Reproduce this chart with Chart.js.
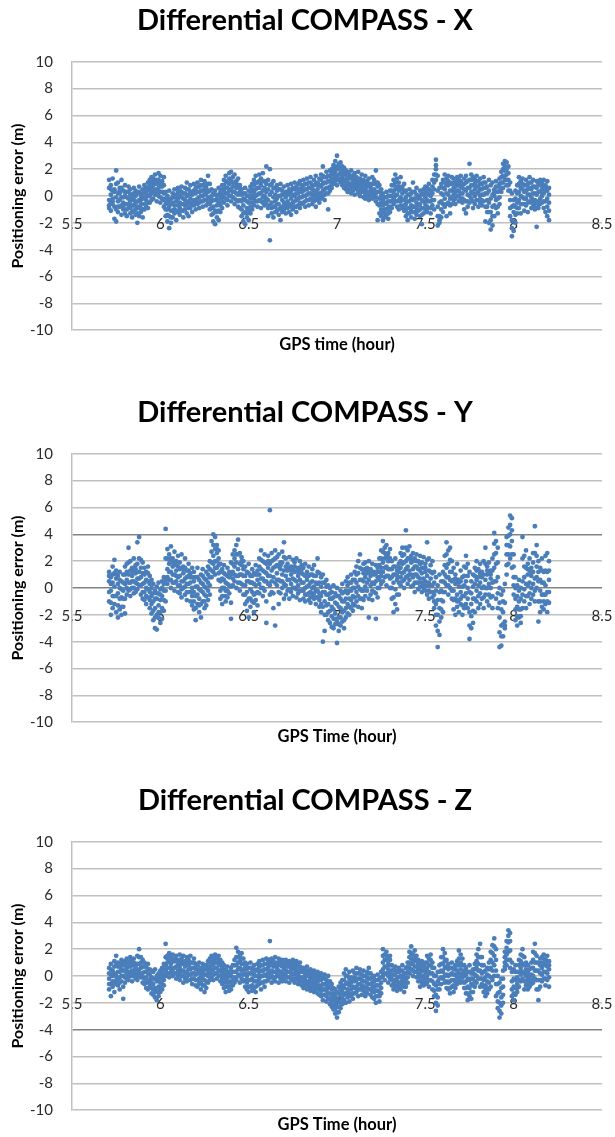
<!DOCTYPE html>
<html>
<head>
<meta charset="utf-8">
<title>Differential COMPASS positioning error</title>
<script src="https://cdn.jsdelivr.net/npm/chart.js@4/dist/chart.umd.min.js"></script>
<style>
    body { margin: 0; background: #ffffff; width: 615px; height: 1137px; overflow: hidden; position: relative; }
    .panel { position: absolute; left: 0; width: 615px; height: 357px; }
    canvas { display: block; }
</style>
</head>
<body>
<div class="panel" style="top: 0px;"><canvas id="chartX" width="615" height="357"></canvas></div>
<div class="panel" style="top: 392px;"><canvas id="chartY" width="615" height="357"></canvas></div>
<div class="panel" style="top: 780px;"><canvas id="chartZ" width="615" height="357"></canvas></div>
<script>
// GPS time of each epoch (hour)
const gpsTime = [
    5.71,5.72,5.73,5.74,5.75,5.76,5.77,5.78,5.79,5.80,
    5.81,5.82,5.83,5.84,5.85,5.86,5.87,5.88,5.89,5.90,
    5.91,5.92,5.93,5.94,5.95,5.96,5.97,5.98,5.99,6.00,
    6.01,6.02,6.03,6.04,6.05,6.06,6.07,6.08,6.09,6.10,
    6.11,6.12,6.13,6.14,6.15,6.16,6.17,6.18,6.19,6.20,
    6.21,6.22,6.23,6.24,6.25,6.26,6.27,6.28,6.29,6.30,
    6.31,6.32,6.33,6.34,6.35,6.36,6.37,6.38,6.39,6.40,
    6.41,6.42,6.43,6.44,6.45,6.46,6.47,6.48,6.49,6.50,
    6.51,6.52,6.53,6.54,6.55,6.56,6.57,6.58,6.59,6.60,
    6.61,6.62,6.63,6.64,6.65,6.66,6.67,6.68,6.69,6.70,
    6.71,6.72,6.73,6.74,6.75,6.76,6.77,6.78,6.79,6.80,
    6.81,6.82,6.83,6.84,6.85,6.86,6.87,6.88,6.89,6.90,
    6.91,6.92,6.93,6.94,6.95,6.96,6.97,6.98,6.99,7.00,
    7.01,7.02,7.03,7.04,7.05,7.06,7.07,7.08,7.09,7.10,
    7.11,7.12,7.13,7.14,7.15,7.16,7.17,7.18,7.19,7.20,
    7.21,7.22,7.23,7.24,7.25,7.26,7.27,7.28,7.29,7.30,
    7.31,7.32,7.33,7.34,7.35,7.36,7.37,7.38,7.39,7.40,
    7.41,7.42,7.43,7.44,7.45,7.46,7.47,7.48,7.49,7.50,
    7.51,7.52,7.53,7.54,7.55,7.56,7.57,7.58,7.59,7.60,
    7.61,7.62,7.63,7.64,7.65,7.66,7.67,7.68,7.69,7.70,
    7.71,7.72,7.73,7.74,7.75,7.76,7.77,7.78,7.79,7.80,
    7.81,7.82,7.83,7.84,7.85,7.86,7.87,7.88,7.89,7.90,
    7.91,7.92,7.93,7.94,7.95,7.96,7.97,7.98,7.99,8.00,
    8.01,8.02,8.03,8.04,8.05,8.06,8.07,8.08,8.09,8.10,
    8.11,8.12,8.13,8.14,8.15,8.16,8.17,8.18,8.19,8.20
];

// X component (m): five points of the cloud at each epoch, top to bottom
const compassXHigh = [
    1.2,0.8,1.3,0.5,1.9,1.0,0.6,1.2,0.4,0.8,
    0.3,0.7,0.5,0.1,0.6,0.4,0.2,0.7,0.0,0.5,
    0.8,0.6,1.0,1.2,1.4,1.3,1.6,1.2,1.7,1.5,
    1.1,1.4,0.3,0.0,0.4,-0.2,0.2,0.5,0.1,0.6,
    0.4,0.7,0.2,0.6,1.0,0.5,0.8,0.3,0.9,0.6,
    1.0,0.7,1.2,0.8,1.1,0.6,1.5,0.9,0.5,0.2,
    0.4,0.0,0.6,0.3,0.8,1.2,1.5,1.0,1.7,1.8,
    1.4,1.6,1.1,1.3,0.8,0.5,0.2,0.6,0.0,0.4,
    0.7,0.9,1.2,1.5,1.0,1.6,1.3,1.7,1.1,2.2,
    1.2,2.0,0.9,1.1,0.6,0.8,0.5,0.9,0.4,0.7,
    0.3,0.8,0.5,0.9,0.6,1.0,0.7,0.9,1.1,0.8,
    1.2,0.9,1.3,1.0,1.4,0.8,1.2,1.5,1.0,1.3,
    1.6,2.2,1.4,1.8,1.5,1.9,2.0,2.3,2.6,3.0,
    2.4,2.5,2.2,2.1,1.9,1.8,1.6,1.9,1.5,1.7,
    1.4,1.8,1.3,1.6,1.2,1.5,1.1,1.3,0.9,1.4,
    1.2,1.9,1.0,0.8,0.5,0.2,-0.1,0.3,0.0,0.4,
    0.8,1.2,1.6,1.3,1.0,1.4,0.7,0.9,0.4,0.1,
    0.5,0.2,1.0,0.3,0.6,0.0,0.4,0.2,0.5,0.7,
    0.6,0.9,0.4,1.2,1.6,2.7,1.5,0.6,0.9,1.2,
    1.6,1.3,1.5,1.0,1.4,1.3,1.0,1.4,1.2,1.5,
    0.9,1.3,1.5,1.1,2.4,1.6,1.4,1.2,1.5,1.1,
    1.3,0.9,1.4,1.0,0.7,1.2,0.8,1.0,0.5,1.1,
    0.7,1.3,1.8,2.4,2.6,2.5,2.2,1.0,0.2,-0.3,
    0.4,0.8,1.4,1.1,1.3,0.8,1.2,0.9,1.4,1.0,
    1.2,0.7,1.1,0.9,1.2,1.0,1.2,0.8,1.1,0.6
];
const compassXUpperMid = [
    0.6,0.5,0.4,0.4,0.9,0.2,0.4,0.6,-0.1,0.3,
    -0.1,0.3,0.1,-0.2,0.2,0.0,-0.4,0.3,-0.3,0.2,
    0.4,0.4,0.6,0.8,1.0,1.1,1.1,1.0,1.2,0.9,
    0.9,0.8,-0.2,-0.5,-0.3,-0.6,-0.1,-0.1,-0.1,0.3,
    0.0,0.3,-0.2,0.2,0.5,0.1,0.3,0.2,0.4,0.4,
    0.7,0.3,0.8,0.4,0.8,0.4,0.9,0.4,0.0,-0.3,
    0.1,-0.3,0.1,0.1,0.5,0.8,1.1,0.6,1.3,1.2,
    1.0,1.0,0.9,0.7,0.6,0.1,-0.2,0.2,-0.4,0.0,
    0.3,0.5,0.8,1.0,0.6,1.1,0.8,1.1,0.6,0.9,
    0.5,0.8,0.3,0.6,0.1,0.4,0.0,0.5,0.1,0.2,
    0.1,0.3,0.3,0.4,0.1,0.5,0.2,0.5,0.5,0.6,
    0.8,0.5,0.9,0.6,1.0,0.5,0.8,0.9,0.8,0.8,
    1.2,1.5,1.0,1.4,1.1,1.5,1.7,2.0,2.2,2.1,
    2.2,2.1,1.8,1.9,1.6,1.4,1.5,1.4,1.3,1.3,
    1.3,1.2,1.1,1.1,1.0,1.0,0.9,0.8,0.8,0.9,
    0.9,1.0,0.7,0.3,0.0,-0.3,-0.5,-0.1,-0.4,0.0,
    0.4,0.8,1.0,0.7,0.7,0.6,0.5,0.3,-0.1,-0.4,
    0.1,-0.2,0.3,-0.2,0.1,-0.1,0.0,-0.3,0.1,0.3,
    0.2,0.5,0.0,0.7,1.0,2.3,0.4,-0.5,0.2,0.6,
    1.0,0.8,1.1,0.4,0.9,1.0,0.7,1.1,0.8,1.1,
    0.6,0.9,1.0,0.6,1.2,1.2,0.8,0.9,1.1,0.7,
    0.9,0.5,1.0,0.6,0.2,0.4,-0.2,0.1,0.3,0.7,
    0.3,0.9,1.4,2.0,2.2,2.0,1.7,0.4,-0.8,-0.7,
    -0.2,0.2,0.9,0.6,0.9,0.3,0.8,0.5,1.0,0.5,
    0.7,0.2,0.6,0.3,0.8,0.8,0.7,0.6,0.4,0.1
];
const compassXMid = [
    -0.3,0.1,-0.2,0.3,-0.1,-0.4,0.2,-0.1,-0.5,0.0,
    -0.6,-0.2,-0.4,-0.7,-0.3,-0.5,-0.8,-0.3,-0.6,-0.2,
    -0.1,0.2,0.0,0.4,0.6,0.8,0.5,0.9,0.6,0.3,
    0.7,0.2,-0.6,-1.0,-0.8,-1.1,-0.5,-0.7,-0.4,-0.2,
    -0.5,-0.1,-0.6,-0.3,0.0,-0.4,-0.2,0.1,-0.3,0.2,
    0.3,-0.1,0.4,0.0,0.5,0.2,0.3,-0.2,-0.4,-0.8,
    -0.3,-0.7,-0.5,-0.2,0.1,0.4,0.6,0.2,0.9,0.5,
    0.7,0.3,0.6,0.1,0.3,-0.4,-0.7,-0.3,-0.9,-0.5,
    -0.2,0.0,0.3,0.5,0.1,0.6,0.2,0.4,0.0,0.3,
    -0.3,0.1,-0.5,-0.1,-0.4,-0.2,-0.6,0.0,-0.3,-0.5,
    -0.1,-0.4,0.1,-0.2,-0.5,0.0,-0.3,0.2,-0.1,0.3,
    0.4,0.0,0.5,0.2,0.6,0.1,0.4,0.3,0.5,0.2,
    0.7,0.9,0.5,1.0,0.6,1.1,1.3,1.6,1.8,1.5,
    2.0,1.7,1.4,1.6,1.2,1.0,1.3,0.8,1.1,0.9,
    1.2,0.7,0.9,0.6,0.8,0.5,0.7,0.3,0.6,0.4,
    0.5,0.2,0.3,-0.2,-0.5,-0.7,-1.0,-0.6,-0.9,-0.4,
    0.0,0.3,0.5,0.1,0.4,-0.1,0.2,-0.3,-0.6,-0.9,
    -0.4,-0.7,-0.3,-0.8,-0.5,-0.2,-0.6,-0.9,-0.4,-0.1,
    -0.3,0.1,-0.4,0.2,0.5,2.0,-0.8,-1.5,-0.4,0.1,
    0.5,0.2,0.8,-0.2,0.4,0.6,0.3,0.8,0.4,0.7,
    0.2,0.5,0.4,0.1,0.6,0.8,0.2,0.5,0.7,0.3,
    0.5,0.1,0.6,0.2,-0.3,-0.5,-1.2,-0.8,0.0,0.3,
    -0.2,0.4,1.0,1.5,1.9,1.6,1.2,-0.3,-1.8,-1.2,
    -0.8,-0.5,0.3,0.0,0.5,-0.2,0.4,0.1,0.6,-0.1,
    0.2,-0.3,0.1,-0.4,0.3,0.5,0.2,0.4,-0.2,-0.5
];
const compassXLowerMid = [
    -0.7,-0.5,-0.4,-0.8,-1.0,-0.8,-0.3,-0.7,-0.8,-0.6,
    -1.0,-0.6,-0.9,-1.2,-0.7,-1.0,-1.3,-0.9,-0.9,-1.0,
    -0.6,-0.3,-0.5,0.0,0.2,0.3,0.3,0.3,0.3,-0.1,
    0.3,-0.3,-1.0,-1.4,-1.5,-1.6,-1.1,-1.0,-1.1,-0.7,
    -0.9,-0.6,-1.1,-0.7,-0.6,-0.9,-0.6,-0.5,-0.5,-0.4,
    -0.2,-0.5,0.0,-0.4,0.1,-0.3,-0.1,-0.6,-0.9,-1.3,
    -1.1,-1.2,-1.1,-0.7,-0.4,-0.1,0.2,-0.3,0.4,0.0,
    0.3,-0.2,0.2,-0.4,-0.3,-1.0,-1.3,-1.2,-1.3,-1.1,
    -0.8,-0.5,-0.2,0.0,-0.4,0.2,-0.4,-0.1,-0.4,-0.2,
    -0.9,-0.7,-0.9,-0.8,-0.8,-0.6,-1.0,-0.9,-0.8,-0.8,
    -0.7,-0.7,-0.6,-0.8,-0.8,-0.4,-0.8,-0.2,-0.5,-0.1,
    0.0,-0.4,0.1,-0.3,0.2,-0.3,0.0,-0.2,0.1,-0.1,
    0.2,0.4,0.1,0.6,0.2,0.7,0.9,1.2,1.4,1.2,
    1.6,1.3,1.1,1.1,0.8,0.6,0.9,0.5,0.7,0.5,
    0.9,0.4,0.5,0.4,0.3,0.1,0.3,0.0,0.3,0.1,
    0.2,-0.1,-0.6,-0.7,-1.0,-1.2,-1.3,-1.0,-1.3,-0.8,
    -0.4,-0.2,0.0,-0.4,-0.3,-0.4,-0.3,-0.7,-1.0,-1.3,
    -0.9,-1.1,-0.8,-1.2,-0.9,-0.7,-1.0,-1.4,-0.9,-0.6,
    -0.8,-0.4,-0.9,-0.3,-0.3,1.6,-1.5,-1.8,-1.0,-0.6,
    -0.2,-0.6,0.1,-0.7,-0.1,0.1,-0.2,0.4,0.0,0.2,
    -0.2,-0.3,-0.4,-0.4,0.0,0.3,-0.4,0.0,0.2,-0.3,
    0.0,-0.3,0.1,-0.8,-0.8,-1.2,-1.8,-1.5,-0.7,-0.3,
    -0.8,-0.1,0.6,1.0,1.5,1.2,0.8,-0.9,-2.4,-1.9,
    -1.4,-0.9,-0.3,-0.6,-0.1,-0.6,-0.2,-0.5,0.1,-0.5,
    -0.3,-0.6,-0.9,-0.6,-0.2,0.0,-0.4,-0.4,-0.8,-1.1
];
const compassXLow = [
    -0.9,-1.1,-0.6,-1.7,-1.9,-1.2,-0.8,-1.4,-1.0,-1.3,
    -1.5,-0.9,-1.3,-1.6,-1.1,-1.4,-2.0,-1.5,-1.2,-1.6,
    -1.0,-0.8,-0.9,-0.5,-0.3,-0.2,0.1,-0.4,0.0,-0.5,
    -0.2,-0.8,-1.5,-1.9,-2.4,-2.0,-1.6,-1.3,-1.8,-1.2,
    -1.4,-1.1,-1.6,-1.0,-1.3,-1.5,-0.9,-1.2,-0.7,-1.0,
    -0.6,-0.9,-0.4,-0.8,-0.3,-0.7,-0.5,-1.0,-1.4,-1.9,
    -2.1,-1.6,-1.8,-1.2,-0.9,-0.5,-0.2,-0.7,0.0,-0.4,
    -0.1,-0.6,-0.3,-0.8,-0.9,-1.5,-1.9,-2.1,-1.6,-1.8,
    -1.3,-1.0,-0.7,-0.4,-0.8,-0.3,-0.9,-0.5,-0.7,-0.6,
    -1.5,-3.3,-1.3,-1.6,-1.2,-1.1,-1.4,-1.8,-1.2,-1.0,
    -1.3,-0.9,-1.2,-1.4,-1.0,-0.8,-1.2,-0.7,-0.9,-0.6,
    -0.5,-0.8,-0.3,-0.7,-0.2,-0.6,-0.4,-0.8,-0.3,-0.5,
    -0.2,0.0,-0.3,0.2,-1.0,0.4,0.6,0.9,1.1,0.8,
    1.2,1.0,0.8,0.6,0.5,0.3,0.5,0.2,0.4,0.1,
    0.6,0.2,0.0,0.3,-0.1,-0.2,0.0,-0.3,0.1,-0.2,
    0.0,-0.4,-1.8,-1.3,-1.5,-1.8,-1.6,-1.4,-1.7,-1.2,
    -0.9,-0.6,-0.4,-0.8,-1.0,-0.7,-0.9,-1.1,-1.5,-1.8,
    -1.3,-1.6,-1.2,-1.7,-1.4,-1.1,-1.5,-2.1,-1.3,-1.0,
    -1.2,-0.9,-1.3,-0.7,-1.0,1.2,-2.2,-2.0,-1.6,-1.2,
    -0.8,-1.5,-0.5,-1.3,-0.6,-0.3,-0.6,0.0,-0.4,-0.2,
    -0.5,-1.0,-1.3,-0.8,-0.5,-0.2,-0.9,-0.6,-0.3,-0.8,
    -0.5,-0.7,-0.4,-1.9,-1.2,-2.0,-2.5,-2.2,-1.5,-0.9,
    -1.3,-0.6,0.3,0.6,1.2,0.8,0.4,-1.5,-3.0,-2.6,
    -2.0,-1.3,-0.9,-1.3,-0.6,-1.1,-0.7,-1.2,-0.4,-0.9,
    -0.8,-1.0,-2.3,-0.9,-0.6,-0.5,-0.9,-1.2,-1.5,-1.8
];

// Y component (m)
const compassYHigh = [
    1.2,0.8,1.6,2.1,1.3,0.9,1.2,0.5,1.0,1.6,
    1.8,3.0,2.0,1.5,2.2,1.7,3.4,3.8,2.1,1.9,
    1.5,1.2,1.6,0.9,0.6,0.3,-0.2,0.1,0.4,-0.1,
    0.5,0.8,4.4,2.9,2.5,3.1,2.2,2.7,2.0,2.4,
    1.9,2.5,1.6,2.2,1.3,1.8,1.1,1.5,1.2,0.8,
    1.5,0.6,1.0,1.4,0.7,1.2,1.6,2.0,3.5,4.0,
    3.8,3.2,2.8,1.8,1.4,1.7,1.0,1.5,1.2,1.9,
    2.5,2.8,3.2,3.6,2.6,2.3,2.0,1.6,1.2,1.8,
    0.9,1.4,1.1,1.7,1.3,2.2,2.8,2.0,2.5,1.8,
    2.4,5.8,2.6,2.1,2.8,2.3,2.5,1.9,2.7,3.4,
    2.2,1.8,2.3,1.6,2.1,1.9,2.2,1.5,2.0,1.7,
    1.5,1.8,1.2,1.6,1.0,1.4,1.7,0.9,2.2,1.1,
    0.8,1.0,0.4,0.6,0.2,0.0,-0.3,0.2,-0.4,0.0,
    -0.6,-0.2,0.3,-0.3,0.5,0.8,0.4,1.0,0.6,1.2,
    1.6,2.0,2.5,1.4,1.8,1.9,1.5,2.0,1.4,1.8,
    1.2,1.7,1.5,2.2,2.8,3.5,3.0,3.2,2.6,2.9,
    2.0,1.6,2.2,1.3,1.8,2.6,3.0,2.5,4.3,2.8,
    3.1,2.4,2.6,2.2,2.5,2.0,2.4,1.9,2.3,1.8,
    3.4,2.2,1.7,2.0,1.2,0.8,0.2,1.0,0.5,1.2,
    2.4,3.4,2.8,3.0,2.0,1.5,1.0,1.8,0.6,1.3,
    0.8,1.6,2.4,1.8,1.2,0.5,1.0,1.5,2.0,1.4,
    1.8,1.2,2.0,3.0,1.6,1.9,1.3,2.2,4.1,3.5,
    3.0,0.0,-0.5,-0.2,0.3,3.8,4.5,5.4,5.2,2.5,
    0.8,0.2,0.6,0.0,3.8,2.4,2.8,1.8,2.2,1.5,
    2.6,4.6,3.2,2.0,1.5,2.2,1.2,2.4,2.6,2.0
];
const compassYUpperMid = [
    0.9,0.3,1.0,1.1,1.0,0.3,0.6,-0.1,0.4,1.0,
    1.2,1.9,1.3,1.2,1.4,1.4,1.8,2.2,1.5,1.1,
    1.0,0.6,1.1,0.3,0.0,-0.4,-0.8,-0.4,-0.4,-0.5,
    0.0,0.3,2.2,2.2,2.1,2.2,1.9,1.8,1.7,1.6,
    1.4,1.5,1.4,1.5,0.8,1.3,0.8,0.8,0.5,0.1,
    0.8,-0.1,0.4,0.9,0.1,0.6,1.0,1.4,2.7,3.2,
    2.9,2.9,2.2,1.2,0.7,1.1,0.4,0.9,1.0,1.0,
    1.8,2.2,2.5,2.5,1.8,2.0,1.4,0.9,0.5,1.1,
    0.4,0.9,0.3,1.0,1.0,1.6,2.1,1.3,1.9,1.1,
    2.0,1.8,2.0,1.5,2.2,1.7,1.6,1.7,1.9,2.3,
    1.6,1.5,1.5,1.3,1.4,1.6,1.3,1.2,1.3,1.4,
    1.0,0.9,0.9,0.9,0.4,1.0,0.9,0.4,1.2,0.4,
    0.1,0.4,-0.3,0.1,-0.5,-0.4,-0.8,-0.7,-1.1,-0.6,
    -1.4,-0.8,-0.4,-1.0,-0.2,0.2,-0.2,0.4,0.0,0.6,
    1.0,1.1,1.5,0.6,1.1,1.4,1.3,1.3,1.2,1.1,
    1.1,1.1,1.2,1.7,2.2,2.7,2.6,2.4,2.3,2.2,
    1.4,1.0,1.6,0.9,1.5,2.0,2.4,1.9,3.0,2.2,
    2.2,2.1,2.0,1.6,2.0,1.4,1.8,1.5,1.5,1.5,
    2.1,1.3,1.2,1.1,0.4,-0.2,-0.9,-0.3,-0.2,0.5,
    1.7,2.5,1.8,2.1,1.2,0.6,0.7,0.6,0.4,0.5,
    0.1,0.9,1.5,0.9,-0.3,-0.4,0.1,0.9,1.3,0.8,
    1.1,1.0,1.0,1.8,1.3,1.1,1.0,1.3,3.3,2.6,
    1.9,-1.1,-1.6,-1.0,-1.1,3.2,3.9,4.7,4.3,1.6,
    0.0,-0.6,-0.2,-0.8,2.2,1.6,1.5,1.4,1.3,1.2,
    1.9,2.6,2.4,1.2,0.6,1.3,0.4,1.3,1.2,1.3
];
const compassYMid = [
    0.5,-0.2,0.4,0.1,0.7,-0.4,0.0,-0.7,-0.2,0.3,
    0.6,1.0,0.4,0.9,0.5,1.1,0.7,1.2,0.8,0.3,
    0.4,0.0,0.5,-0.3,-0.6,-1.0,-1.5,-0.8,-1.3,-0.9,
    -0.6,-0.2,0.6,1.4,1.8,1.2,1.6,1.0,1.3,0.8,
    0.9,0.5,1.1,0.7,0.3,0.9,0.4,0.0,-0.3,-0.6,
    0.1,-0.8,-0.2,0.3,-0.5,0.0,0.4,0.8,1.9,2.4,
    2.0,2.6,1.7,0.5,0.0,0.6,-0.2,0.3,0.8,0.1,
    1.2,1.6,1.9,1.4,1.0,1.7,0.9,0.2,-0.3,0.5,
    -0.1,0.4,-0.5,0.2,0.6,1.0,1.4,0.7,1.2,0.5,
    1.5,0.9,1.3,0.8,1.6,1.1,0.6,1.4,1.0,1.3,
    0.9,1.3,0.6,1.0,0.7,1.2,0.5,0.9,0.6,1.1,
    0.4,0.0,0.6,0.2,-0.3,0.5,0.1,-0.2,0.3,-0.4,
    -0.6,-0.3,-1.0,-0.5,-1.2,-0.8,-1.4,-1.6,-1.9,-1.2,
    -2.2,-1.5,-1.0,-1.7,-0.8,-0.4,-0.8,-0.2,-0.6,0.0,
    0.4,0.1,0.6,-0.2,0.5,0.8,1.1,0.6,0.9,0.4,
    1.0,0.5,0.8,1.2,1.5,1.9,2.2,1.6,2.0,1.4,
    0.8,0.4,1.0,0.6,1.2,1.5,1.8,1.2,2.0,1.6,
    1.3,1.9,1.4,1.0,1.6,0.8,1.3,1.1,0.7,1.2,
    0.9,0.4,0.7,0.2,-0.5,-1.2,-2.0,-1.5,-0.9,-0.3,
    1.0,1.5,0.8,1.2,0.5,-0.2,0.3,-0.5,0.1,-0.3,
    -0.6,0.2,0.5,0.0,-1.8,-1.2,-0.8,0.3,0.6,0.2,
    0.4,0.8,0.1,0.6,1.0,0.3,0.7,0.4,2.5,1.8,
    0.8,-2.2,-2.8,-1.8,-2.5,2.5,3.2,4.0,3.5,0.8,
    -0.8,-1.4,-1.0,-1.6,0.5,0.8,0.3,1.0,0.4,0.9,
    1.2,0.7,1.6,0.5,-0.2,0.4,-0.5,0.2,-0.3,0.6
];
const compassYLowerMid = [
    -0.3,-1.1,-0.6,-0.6,-0.6,-1.3,-0.8,-1.4,-0.8,-0.8,
    0.0,0.4,-0.1,0.5,0.0,0.4,0.3,0.7,0.2,-0.3,
    -0.3,-0.6,-0.1,-0.9,-1.2,-1.7,-2.2,-2.0,-1.8,-1.8,
    -1.5,-0.9,-0.2,0.8,1.2,0.6,1.0,0.4,0.9,0.2,
    0.2,-0.1,0.5,0.1,-0.3,0.3,-0.3,-0.6,-1.0,-1.5,
    -0.5,-1.3,-1.2,-0.3,-1.0,-0.6,-0.2,0.2,1.3,1.8,
    1.5,2.0,1.1,-0.2,-0.6,0.0,-0.6,-0.2,0.2,-1.1,
    0.7,1.0,0.9,0.9,0.4,1.0,0.2,-0.5,-1.0,-0.8,
    -0.8,-0.3,-1.1,-0.4,-0.3,0.3,0.7,0.0,0.5,-1.0,
    0.9,0.2,0.5,-0.4,0.4,0.6,-0.3,0.5,0.5,0.3,
    0.2,0.6,-0.1,0.3,0.0,0.6,-0.1,0.2,-0.2,0.4,
    -0.2,-0.5,0.1,-0.4,-0.7,0.0,-0.4,-0.7,-0.2,-0.9,
    -1.2,-1.4,-2.0,-1.3,-1.8,-1.7,-2.1,-2.3,-2.3,-2.5,
    -2.7,-2.2,-1.8,-2.4,-1.5,-1.2,-1.4,-0.9,-1.2,-0.7,
    -0.3,-0.6,-0.1,-0.8,-0.2,0.1,0.4,-0.8,0.2,-0.2,
    0.3,-0.4,0.0,0.6,0.9,1.2,1.5,0.9,1.4,0.7,
    0.0,-0.7,-0.1,-0.5,0.4,0.8,1.1,0.6,1.4,0.9,
    1.0,1.0,0.8,0.4,1.0,0.4,0.7,0.4,0.3,0.5,
    0.2,-0.2,0.2,-0.3,-1.0,-2.0,-3.2,-2.5,-1.6,-1.0,
    0.4,0.8,0.2,0.6,-0.2,-0.9,-0.8,-1.0,-0.9,-0.8,
    -1.3,-0.6,-0.4,-0.8,-2.8,-2.1,-1.7,-0.8,-0.2,-0.6,
    -0.4,0.0,-0.7,0.0,0.0,-0.5,0.0,-0.6,1.5,0.5,
    -0.4,-3.3,-3.6,-2.7,-2.8,1.7,2.5,3.1,2.5,0.2,
    -1.6,-2.1,-1.6,-2.1,-0.5,-0.1,-0.6,0.2,-0.4,0.0,
    0.3,-0.2,0.8,-1.0,-1.0,-0.5,-1.0,-0.5,-1.0,-0.3
];
const compassYLow = [
    -1.0,-2.0,-1.5,-1.2,-1.8,-2.2,-1.6,-2.0,-1.4,-1.9,
    -0.5,-0.2,-0.6,0.0,-0.4,-0.3,-0.1,0.2,-0.5,-0.8,
    -0.9,-1.2,-0.7,-1.5,-1.9,-2.4,-3.0,-3.1,-2.2,-2.6,
    -2.3,-1.7,-1.0,0.3,0.6,0.0,0.4,-0.2,0.5,-0.3,
    -0.4,-0.7,0.0,-0.5,-0.9,-0.3,-1.0,-1.3,-1.6,-2.4,
    -1.2,-1.8,-2.2,-1.0,-1.5,-1.3,-0.9,-0.5,0.8,1.2,
    1.0,1.5,0.6,-0.8,-1.2,-0.6,-1.0,-0.7,-0.4,-2.3,
    0.2,0.5,0.0,0.4,-0.2,0.3,-0.5,-1.2,-1.7,-2.2,
    -1.4,-1.0,-1.8,-0.9,-1.3,-0.4,0.0,-0.6,-0.2,-2.6,
    0.3,-0.5,-0.3,-1.5,-2.8,0.2,-1.2,-0.4,0.0,-0.8,
    -0.5,-0.2,-0.8,-0.3,-0.6,0.0,-0.7,-0.4,-0.9,-0.2,
    -0.8,-1.0,-0.5,-0.9,-1.1,-0.6,-0.8,-1.2,-0.7,-1.4,
    -1.8,-4.0,-3.2,-2.0,-2.4,-2.6,-2.9,-3.0,-2.7,-4.1,
    -3.2,-2.8,-2.5,-3.0,-2.2,-1.9,-2.0,-1.5,-1.7,-1.3,
    -1.0,-1.4,-0.8,-1.5,-0.9,-0.6,-0.2,-2.2,-0.5,-0.9,
    -0.3,-2.3,-0.7,0.0,0.3,0.5,0.8,0.2,0.9,0.0,
    -0.8,-1.8,-1.2,-1.6,-0.5,0.2,0.5,0.0,0.8,0.3,
    0.6,0.1,0.2,-0.3,0.4,-0.1,0.1,-0.3,0.0,-0.2,
    -0.5,-0.8,-0.3,-0.7,-1.5,-2.8,-4.4,-3.5,-2.2,-1.8,
    -0.3,0.2,-0.5,0.0,-0.8,-1.6,-2.0,-1.4,-1.8,-1.2,
    -2.0,-1.5,-1.2,-1.5,-3.8,-3.0,-2.6,-1.8,-1.0,-1.5,
    -1.2,-0.8,-1.5,-0.5,-1.0,-1.3,-0.7,-1.5,0.5,-0.8,
    -1.5,-4.4,-4.3,-3.6,-3.0,1.0,1.8,2.2,1.5,-0.5,
    -2.4,-2.8,-2.2,-2.6,-1.5,-1.0,-1.5,-0.6,-1.2,-0.8,
    -0.5,-1.0,0.0,-2.5,-1.8,-1.4,-1.6,-1.2,-1.8,-1.1
];

// Z component (m)
const compassZHigh = [
    0.6,0.9,0.4,1.1,1.5,1.0,0.7,1.2,0.8,1.1,
    1.3,1.0,1.4,1.1,1.3,0.9,1.5,2.0,1.4,1.2,
    1.0,0.7,0.9,0.5,0.4,0.3,0.5,0.0,0.2,0.4,
    0.6,0.9,2.4,1.5,1.7,1.4,1.6,1.3,1.5,1.2,
    1.6,1.3,1.5,1.1,1.4,1.2,1.5,1.0,1.3,0.9,
    0.8,1.0,0.6,0.9,0.5,0.8,1.1,1.3,1.5,1.3,
    1.6,1.4,1.5,1.2,1.0,0.8,0.5,0.7,0.3,0.6,
    0.8,1.2,2.1,1.8,1.5,1.7,1.3,1.0,0.9,0.6,
    1.0,0.5,0.8,0.4,0.9,1.1,0.8,1.2,0.9,1.3,
    1.2,2.6,1.3,1.1,1.4,1.0,1.3,1.1,1.2,0.9,
    1.2,1.0,1.1,0.8,1.2,0.9,1.1,0.7,1.0,0.6,
    0.6,0.4,0.7,0.3,0.5,0.2,0.4,0.1,0.3,0.0,
    0.2,-0.1,0.1,-0.3,0.0,-0.4,-0.6,-0.9,-1.0,-1.2,
    -0.8,-0.5,-0.3,0.2,0.5,0.0,0.3,-0.1,0.4,0.2,
    0.6,0.2,0.5,0.1,0.4,0.0,0.3,0.6,0.2,-0.1,
    0.0,-0.3,0.1,-0.2,0.3,2.0,1.6,1.8,1.3,1.5,
    0.8,0.5,0.7,0.3,0.6,0.4,0.8,0.2,0.6,1.0,
    1.8,2.2,1.6,1.9,1.5,1.2,0.9,1.1,0.8,1.0,
    1.5,1.3,1.6,1.0,0.6,0.0,0.3,0.8,1.4,2.0,
    1.7,1.2,0.9,0.6,1.0,0.5,0.8,1.1,1.9,1.6,
    1.3,0.8,0.6,0.3,0.8,0.2,0.5,0.9,1.6,2.0,
    2.4,1.4,0.8,0.4,0.6,1.0,1.8,2.3,2.8,2.0,
    0.0,-0.5,-0.2,0.4,1.8,2.6,3.4,3.2,1.0,0.5,
    0.8,0.3,1.2,1.6,2.0,1.4,1.0,0.8,0.5,1.0,
    1.8,2.4,1.5,1.0,1.3,1.4,1.6,1.2,1.5,1.1
];
const compassZUpperMid = [
    0.2,0.5,0.0,0.7,0.8,0.7,0.3,0.9,0.4,0.8,
    1.0,0.7,1.1,0.8,1.0,0.7,0.9,1.4,1.0,0.7,
    0.7,0.3,0.5,0.1,-0.1,-0.2,-0.2,-0.2,-0.3,0.0,
    0.2,0.5,1.4,1.3,1.2,1.2,1.1,1.2,1.1,0.8,
    1.1,1.1,1.0,0.9,0.9,1.0,1.0,0.6,1.0,0.5,
    0.5,0.4,0.3,0.6,0.1,0.5,0.7,1.0,1.1,0.9,
    1.3,1.0,1.2,0.8,0.6,0.4,0.1,0.3,0.0,0.3,
    0.3,0.8,1.4,1.4,1.1,1.3,0.9,0.6,0.5,0.2,
    0.6,0.2,0.5,0.0,0.5,0.7,0.4,0.8,0.5,0.9,
    0.9,1.2,0.9,0.9,0.9,0.8,0.9,1.0,0.7,0.7,
    0.8,0.9,0.7,0.7,0.9,0.6,0.8,0.4,0.7,0.3,
    0.3,0.1,0.4,0.0,0.2,-0.1,0.1,-0.2,0.0,-0.3,
    -0.3,-0.6,-0.2,-0.7,-0.5,-0.8,-1.0,-1.3,-1.5,-1.7,
    -1.3,-1.0,-0.7,-0.3,0.0,-0.5,-0.2,-0.3,-0.2,-0.1,
    0.2,-0.2,0.2,-0.3,0.0,-0.4,-0.1,0.2,-0.2,-0.5,
    -0.4,-0.7,-0.3,-0.7,-0.1,1.5,1.2,1.5,0.9,1.2,
    0.4,0.1,0.4,-0.1,0.3,0.0,0.4,-0.1,0.2,0.7,
    1.4,1.7,1.2,1.5,1.1,0.9,0.6,0.7,0.4,0.6,
    1.0,0.8,1.2,0.6,0.0,-0.7,-0.4,0.3,0.9,1.4,
    1.1,0.7,0.5,0.1,0.6,0.1,0.5,0.8,1.3,1.0,
    0.8,0.4,0.1,-0.2,0.3,-0.2,0.2,0.5,1.1,1.4,
    1.4,0.8,0.3,-0.1,0.1,0.5,1.2,1.7,2.2,1.2,
    -0.6,-1.2,-0.9,-0.2,1.4,2.1,3.0,2.6,0.3,-0.2,
    0.3,-0.1,0.8,1.1,1.5,0.8,0.5,0.3,0.0,0.6,
    1.2,1.7,1.0,0.4,0.8,1.0,1.3,0.8,1.1,0.8
];
const compassZMid = [
    -0.2,0.1,-0.4,0.2,0.0,0.3,-0.1,0.5,0.0,0.4,
    0.6,0.3,0.7,0.4,0.8,0.5,0.3,0.9,0.6,0.2,
    0.3,-0.1,0.2,-0.3,-0.5,-0.6,-0.9,-0.4,-0.8,-0.5,
    -0.2,0.1,0.8,1.0,0.6,0.9,0.5,1.1,0.7,0.4,
    0.6,0.9,0.4,0.7,0.3,0.8,0.5,0.2,0.6,0.1,
    0.2,-0.2,0.0,0.3,-0.3,0.1,0.4,0.6,0.8,0.5,
    1.0,0.6,0.9,0.4,0.2,0.0,-0.3,-0.1,-0.4,0.0,
    -0.2,0.3,0.8,1.0,0.6,0.9,0.5,0.2,0.0,-0.3,
    0.2,-0.2,0.1,-0.4,0.0,0.3,0.0,0.4,0.1,0.5,
    0.6,0.8,0.4,0.7,0.3,0.6,0.4,0.8,0.2,0.5,
    0.4,0.7,0.3,0.6,0.5,0.2,0.4,0.1,0.3,-0.1,
    -0.1,-0.3,0.0,-0.4,-0.2,-0.5,-0.3,-0.6,-0.4,-0.7,
    -0.8,-1.0,-0.6,-1.1,-0.9,-1.3,-1.5,-1.8,-2.0,-2.3,
    -1.9,-1.5,-1.2,-0.9,-0.6,-1.0,-0.7,-0.5,-0.8,-0.4,
    -0.3,-0.6,-0.2,-0.7,-0.4,-0.8,-0.5,-0.2,-0.6,-0.9,
    -0.8,-1.1,-0.7,-1.2,-0.5,1.0,0.7,1.2,0.5,0.8,
    0.0,-0.3,0.1,-0.4,-0.1,-0.5,0.0,-0.3,-0.2,0.3,
    1.0,1.3,0.9,1.2,0.7,0.5,0.2,0.4,0.0,0.3,
    0.6,0.3,0.8,0.2,-0.6,-1.4,-1.0,-0.2,0.4,0.9,
    0.6,0.1,0.0,-0.4,0.2,-0.3,0.1,0.4,0.8,0.5,
    0.2,0.0,-0.4,-0.8,-0.3,-0.6,-0.2,0.1,0.6,0.9,
    0.4,0.2,-0.3,-0.7,-0.4,0.0,0.6,1.0,1.5,0.4,
    -1.3,-2.0,-1.6,-0.8,1.0,1.6,2.5,1.9,-0.4,-0.8,
    -0.3,-0.6,0.3,0.6,0.9,0.2,0.0,-0.2,-0.4,0.1,
    0.6,1.0,0.4,-0.3,0.2,0.6,0.9,0.3,0.7,0.5
];
const compassZLowerMid = [
    -0.6,-0.6,-0.6,-0.5,-0.3,-0.2,-0.5,0.0,-0.8,-0.1,
    0.2,0.0,0.3,0.0,0.4,0.1,0.0,0.5,0.2,-0.1,
    -0.2,-0.5,-0.4,-0.6,-0.9,-1.0,-1.2,-1.1,-1.2,-0.9,
    -0.6,-0.3,0.4,0.6,0.2,0.6,0.2,0.6,0.2,0.2,
    0.2,0.4,0.0,0.2,-0.1,0.5,0.1,-0.2,0.2,-0.3,
    -0.3,-0.4,-0.5,-0.2,-0.7,-0.4,0.0,0.2,0.4,0.1,
    0.6,0.2,0.4,0.0,-0.2,-0.5,-0.8,-0.5,-0.8,-0.5,
    -0.5,-0.1,0.3,0.5,0.1,0.4,0.1,-0.3,-0.5,-0.8,
    -0.3,-0.7,-0.4,-0.8,-0.4,-0.2,-0.5,0.0,-0.4,0.0,
    0.2,0.3,0.0,0.3,-0.1,0.3,0.0,0.3,-0.1,0.1,
    0.0,0.3,-0.1,0.2,0.1,-0.2,0.1,-0.3,-0.1,-0.4,
    -0.5,-0.5,-0.5,-0.6,-0.7,-0.7,-0.8,-0.8,-0.9,-1.0,
    -1.1,-1.4,-1.0,-1.5,-1.3,-1.7,-1.9,-2.2,-2.4,-2.7,
    -2.3,-2.0,-1.7,-1.4,-1.3,-1.3,-1.3,-1.0,-1.3,-0.9,
    -0.8,-1.0,-0.6,-1.0,-0.8,-1.2,-0.9,-0.6,-1.0,-1.2,
    -1.2,-1.5,-1.1,-1.5,-0.9,0.5,0.2,0.7,0.0,0.3,
    -0.3,-0.6,-0.4,-0.7,-0.5,-0.8,-0.3,-0.8,-0.5,-0.1,
    0.6,0.9,0.4,0.7,0.3,0.0,-0.3,-0.1,-0.4,-0.2,
    0.0,-0.3,0.2,-0.4,-1.1,-2.0,-1.6,-0.6,-0.1,0.3,
    0.0,-0.4,-0.5,-0.9,-0.3,-0.7,-0.4,-0.1,0.2,0.0,
    -0.1,-0.5,-0.9,-1.3,-0.9,-1.2,-0.7,-0.4,0.0,0.4,
    -0.2,-0.2,-0.8,-1.1,-0.9,-0.5,-0.1,0.4,0.8,-0.6,
    -1.9,-2.6,-2.2,-1.4,0.7,1.2,1.8,1.2,-1.0,-1.3,
    -0.9,-0.9,-0.3,0.1,0.3,-0.4,-0.4,-0.6,-0.6,-0.3,
    0.0,0.4,-0.3,-1.0,-0.3,0.1,0.3,-0.2,0.2,-0.1
];
const compassZLow = [
    -1.0,-1.5,-0.8,-1.2,-0.6,-0.7,-1.0,-0.4,-1.7,-0.5,
    -0.2,-0.3,0.0,-0.4,0.1,-0.2,-0.3,0.2,-0.1,-0.5,
    -0.6,-0.9,-1.0,-0.8,-1.3,-1.4,-1.6,-1.8,-1.5,-1.2,
    -1.0,-0.7,0.0,0.2,-0.1,0.3,0.0,0.2,-0.2,0.0,
    -0.3,0.0,-0.5,-0.2,-0.4,0.1,-0.3,-0.6,-0.2,-0.7,
    -0.8,-0.6,-1.0,-0.7,-1.2,-0.9,-0.5,-0.3,-0.1,-0.3,
    0.2,-0.2,0.0,-0.4,-0.6,-0.9,-1.2,-0.8,-1.1,-1.0,
    -0.7,-0.5,-0.3,0.0,-0.5,-0.2,-0.4,-0.8,-1.0,-1.2,
    -0.8,-1.1,-0.9,-1.2,-0.7,-0.6,-1.0,-0.5,-0.8,-0.4,
    -0.3,-0.1,-0.5,-0.2,-0.4,0.0,-0.5,-0.2,-0.4,-0.3,
    -0.4,-0.1,-0.5,-0.2,-0.3,-0.5,-0.2,-0.6,-0.4,-0.7,
    -0.9,-0.7,-1.0,-0.8,-1.1,-0.9,-1.2,-1.0,-1.3,-1.4,
    -1.5,-1.8,-1.4,-1.9,-1.7,-2.1,-2.3,-2.5,-2.8,-3.1,
    -2.7,-2.4,-2.1,-1.8,-2.0,-1.6,-1.9,-1.5,-1.7,-1.3,
    -1.2,-1.5,-1.0,-1.4,-1.1,-1.5,-1.3,-1.0,-1.4,-1.6,
    -1.7,-2.0,-1.5,-1.9,-1.3,0.0,-0.3,0.2,-0.5,-0.2,
    -0.7,-1.0,-0.8,-1.1,-0.9,-1.0,-0.6,-1.2,-0.8,-0.5,
    0.2,0.5,0.0,0.3,-0.1,-0.4,-0.8,-0.5,-0.7,-0.6,
    -0.5,-0.8,-0.3,-1.0,-1.5,-2.6,-2.2,-1.0,-0.6,-0.2,
    -0.5,-0.9,-1.0,-1.3,-0.8,-1.2,-0.9,-0.6,-0.3,-0.5,
    -0.4,-0.9,-1.3,-1.8,-1.5,-1.7,-1.2,-0.8,-0.5,-0.2,
    -0.8,-0.6,-1.2,-1.5,-1.3,-1.0,-0.8,-0.3,0.0,-1.5,
    -2.4,-3.1,-2.8,-2.0,0.5,0.8,1.2,0.6,-1.5,-1.8,
    -1.4,-1.2,-0.8,-0.4,-0.2,-1.0,-0.7,-1.0,-0.8,-0.6,
    -0.5,-0.2,-1.0,-1.8,-0.8,-0.4,-0.2,-0.7,-0.3,-0.8
];

// Axis ticks
const xTickValues = [5.5, 6, 6.5, 7, 7.5, 8, 8.5];
const yTickValues = [-10, -8, -6, -4, -2, 0, 2, 4, 6, 8, 10];

const pointColor = "#4a7ebb";
const gridColor = "#c0c0c0";
const darkGridColor = "#838383";
const fontFamily = "Lato, 'Open Sans', sans-serif";

function toPoints(values)
{
    return gpsTime.map((t, i) => ({ x: t, y: values[i] }));
}

function buildChart(canvasId, titleText, xTitleText, seriesList, darkLines)
{
    const ctx = document.getElementById(canvasId).getContext("2d");

    new Chart(ctx, {
        type: "scatter",
        data: {
            datasets: seriesList.map((values) => ({
                data: toPoints(values),
                pointBackgroundColor: pointColor,
                backgroundColor: pointColor,
                pointBorderWidth: 0,
                borderWidth: 0,
                pointRadius: 2.4,
                pointHoverRadius: 2.4
            }))
        },
        options: {
            responsive: false,
            animation: false,
            events: [],
            layout: { padding: { left: 8, right: 13, top: 0, bottom: 2 } },
            plugins: {
                legend: { display: false },
                tooltip: { enabled: false },
                title: {
                    display: true,
                    text: titleText,
                    color: "#000000",
                    font: { family: fontFamily, size: 29, weight: "bold" },
                    padding: { top: 3, bottom: 24 }
                }
            },
            scales: {
                x: {
                    type: "linear",
                    position: { y: 0 }, // labels hang under the zero line, like Excel
                    min: 5.5,
                    max: 8.5,
                    afterBuildTicks: (scale) => { scale.ticks = xTickValues.map((v) => ({ value: v })); },
                    afterFit: (scale) => {
                        // the label drop (ticks.padding) must not eat into the plot width
                        scale.paddingLeft = 11;
                        scale.paddingRight = 11;
                    },
                    grid: { display: false, drawTicks: false },
                    border: { display: false },
                    ticks: {
                        padding: 19,
                        maxRotation: 0,
                        autoSkip: false,
                        color: "#2b2b2b",
                        font: { family: fontFamily, size: 15 },
                        callback: (value) => String(value)
                    }
                },
                xTitle: {
                    type: "linear",
                    axis: "x",
                    position: "bottom",
                    grid: { display: false, drawTicks: false },
                    border: { display: false },
                    ticks: { display: false },
                    title: {
                        display: true,
                        text: xTitleText,
                        color: "#000000",
                        font: { family: fontFamily, size: 16.5, weight: "bold" },
                        padding: { top: 5, bottom: 0 }
                    }
                },
                y: {
                    type: "linear",
                    position: "left",
                    min: -10,
                    max: 10,
                    afterBuildTicks: (scale) => { scale.ticks = yTickValues.map((v) => ({ value: v })); },
                    afterFit: (scale) => {
                        scale.width = 64;
                        scale.paddingTop = 10;
                        scale.paddingBottom = 10;
                    },
                    grid: {
                        drawTicks: false,
                        lineWidth: 1.5,
                        color: (c) => (c.tick && darkLines.includes(c.tick.value)) ? darkGridColor : gridColor
                    },
                    border: { display: true, color: gridColor, width: 1.5 },
                    ticks: {
                        padding: 19,
                        color: "#2b2b2b",
                        font: { family: fontFamily, size: 15 }
                    },
                    title: {
                        display: true,
                        text: "Positioning error (m)",
                        color: "#000000",
                        font: { family: fontFamily, size: 16, weight: "bold" },
                        padding: { top: 0, bottom: 0 }
                    }
                }
            }
        }
    });
}

buildChart("chartX", "Differential COMPASS - X", "GPS time (hour)",
    [compassXHigh, compassXUpperMid, compassXMid, compassXLowerMid, compassXLow], []);
buildChart("chartY", "Differential COMPASS - Y", "GPS Time (hour)",
    [compassYHigh, compassYUpperMid, compassYMid, compassYLowerMid, compassYLow], [4, 0]);
buildChart("chartZ", "Differential COMPASS - Z", "GPS Time (hour)",
    [compassZHigh, compassZUpperMid, compassZMid, compassZLowerMid, compassZLow], [-4]);
</script>
</body>
</html>
